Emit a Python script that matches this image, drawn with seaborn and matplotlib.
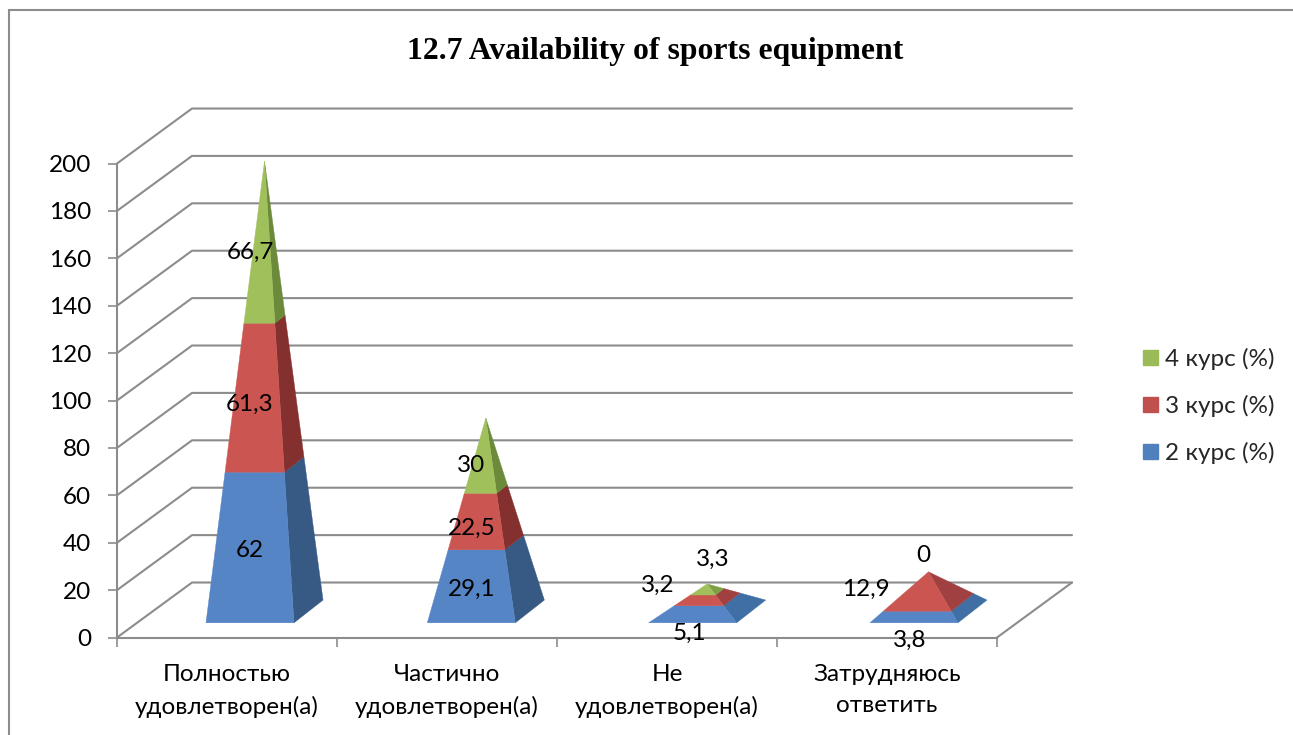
import numpy as np
import matplotlib
matplotlib.use("Agg")
import matplotlib.pyplot as plt
import seaborn as sns
from matplotlib.patches import Patch, Rectangle


# Data
categories = ["Полностью\nудовлетворен(а)", "Частично\nудовлетворен(а)",
              "Не\nудовлетворен(а)", "Затрудняюсь\nответить"]
kurs_2 = [62, 29.1, 5.1, 3.8]
kurs_3 = [61.3, 22.5, 3.2, 12.9]
kurs_4 = [66.7, 30, 3.3, 0]
series_names = ["2 курс (%)", "3 курс (%)", "4 курс (%)"]
y_ticks = list(range(0, 201, 20))

# Look of the 3D box, in axis units
DEPTH_X = 0.341
DEPTH_Y = 23.2
HALF_W = 0.2
HALF_DX = 0.066
HALF_DY = 4.8
CENTER_X = 0.1705
CENTER_Y = 11.0
STEP = 1.006

front_cols = ["#5585C5", "#CB5551", "#A0C05C"]
side_cols = ["#375A85", "#84302F", "#6B8A3A"]
flat_side_cols = ["#3F6FA5", "#A04040", "#7F9F45"]
legend_cols = ["#4F81BD", "#C0504D", "#9BBB59"]
GRID = "#8C8C8C"

# Hand placed labels on the two flat pyramids (pixels)
nudges = {(2, 0): (-3, 16), (2, 1): (-35, -23), (2, 2): (20, -41),
          (3, 0): (-4, 21), (3, 1): (-48, -10), (3, 2): (9, -29)}

sns.set_theme(style="white")
plt.rcParams["font.family"] = ["Lato", "Open Sans", "DejaVu Sans"]
FS = 17.5

W, H = 1293, 735
fig = plt.figure(figsize=(W / 100, H / 100), dpi=100)
ax = fig.add_axes([117 / W, 1 - 637.5 / H, 880 / W, 474 / H])
ax.set_xlim(-0.5, 3.5)
ax.set_ylim(0, 200)
ax.patch.set_alpha(0)

# Outer frame of the chart
fig.add_artist(Rectangle((9 / W, -0.1), 1.2, 1 - 9.5 / H + 0.1, transform=fig.transFigure,
                         fill=False, edgecolor=GRID, linewidth=1.5))

# Walls and floor
for t in y_ticks:
    sns.lineplot(x=[-0.5, -0.5 + DEPTH_X, 3.5 + DEPTH_X], y=[t, t + DEPTH_Y, t + DEPTH_Y],
                 sort=False, estimator=None, color=GRID, linewidth=1.5,
                 clip_on=False, zorder=1, ax=ax)
sns.lineplot(x=[3.5, 3.5 + DEPTH_X], y=[0, DEPTH_Y], sort=False, estimator=None,
             color=GRID, linewidth=1.5, clip_on=False, zorder=1, ax=ax)

# Pyramids
stacks = np.array([kurs_2, kurs_3, kurs_4]).T
for i, row in enumerate(stacks):
    total = row.sum()
    cx = i * STEP + CENTER_X
    cy = CENTER_Y
    sides = side_cols if total > 50 else flat_side_cols

    def corner(z, sign_w, back):
        # point on the pyramid's edge at height z
        s = 1 - z / total
        dep = 1 if back else -1
        return (cx + s * (sign_w * HALF_W + dep * HALF_DX), cy + z + s * dep * HALF_DY)

    bottom = 0
    for j, val in enumerate(row):
        top = bottom + val
        if val > 0:
            p1, p2 = corner(bottom, -1, False), corner(bottom, 1, False)
            p3, p4 = corner(top, 1, False), corner(top, -1, False)
            q1, q2 = corner(bottom, 1, True), corner(top, 1, True)
            ax.fill([p2[0], q1[0], q2[0], p3[0]], [p2[1], q1[1], q2[1], p3[1]],
                    color=sides[j], linewidth=0.3, clip_on=False, zorder=3)
            ax.fill([p1[0], p2[0], p3[0], p4[0]], [p1[1], p2[1], p3[1], p4[1]],
                    color=front_cols[j], linewidth=0.3, clip_on=False, zorder=4)

        # label sits at the middle of the layer, over the front of the base
        nx, ny = nudges.get((i, j), (0, 0))
        ax.annotate(str(val).replace(".", ",").removesuffix(",0"),
                    xy=(cx - HALF_DX, cy - HALF_DY + (bottom + top) / 2),
                    xytext=(nx * 0.72, -(ny + 1) * 0.72), textcoords="offset points",
                    ha="center", va="center", fontsize=FS, color="black",
                    annotation_clip=False, zorder=6)
        bottom = top

# Axes
sns.despine(ax=ax, top=True, right=True)
for name in ["left", "bottom"]:
    ax.spines[name].set_color(GRID)
    ax.spines[name].set_linewidth(1.5)
ax.set_yticks(y_ticks)
ax.tick_params(axis="y", length=6.5, width=1.2, color=GRID, pad=12, labelsize=FS,
               labelcolor="black", left=True)
ax.set_xticks(range(len(categories)))
ax.set_xticklabels(categories, linespacing=1.6)
ax.set_xticks(np.arange(-0.5, 4, 1), minor=True)
ax.tick_params(axis="x", which="major", length=0, pad=19, labelsize=FS, labelcolor="black")
ax.tick_params(axis="x", which="minor", length=6.5, width=1.2, color=GRID, bottom=True)

fig.text(655 / W, 1 - 51 / H, "12.7 Availability of sports equipment", ha="center", va="center",
         fontsize=22.9, fontweight="bold", family="Liberation Serif", color="black")

handles = [Patch(color=legend_cols[k], label=series_names[k]) for k in [2, 1, 0]]
fig.legend(handles=handles, loc="center left", bbox_to_anchor=(1143 / W, 1 - 406 / H),
           frameon=False, fontsize=FS, handlelength=0.62, handleheight=0.62,
           handletextpad=0.28, labelspacing=1.02, borderpad=0, borderaxespad=0)

fig.savefig("out.png", dpi=100)
